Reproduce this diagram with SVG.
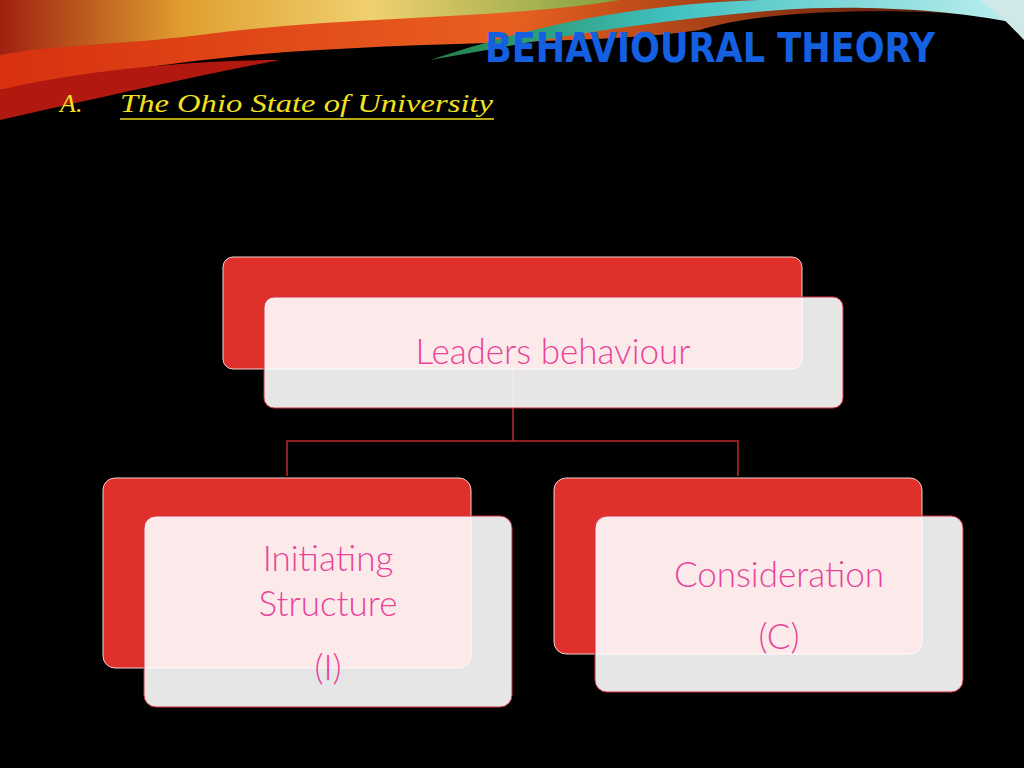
<svg xmlns="http://www.w3.org/2000/svg" width="1024" height="768" viewBox="0 0 1024 768">
<defs>
<linearGradient id="g1" x1="0" y1="0" x2="1" y2="0"><stop offset="0" stop-color="#a02010"/><stop offset="0.3" stop-color="#e0a030"/><stop offset="0.6" stop-color="#f0d070"/><stop offset="1" stop-color="#80a040"/></linearGradient>
<linearGradient id="g2" x1="0" y1="0" x2="1" y2="0"><stop offset="0" stop-color="#d83010"/><stop offset="0.5" stop-color="#e86020"/><stop offset="1" stop-color="#401008"/></linearGradient>
<linearGradient id="g3" x1="0" y1="0" x2="1" y2="0"><stop offset="0" stop-color="#208040"/><stop offset="0.4" stop-color="#40c0c0"/><stop offset="1" stop-color="#c0f0f0"/></linearGradient>
<style>
.back{fill:#e0302c;stroke:#f0d0d0;stroke-width:1}
.front{fill:#ffffff;fill-opacity:0.9;stroke:#d03040;stroke-width:1}
.lbl{font-family:Lato,"Liberation Sans",sans-serif;font-weight:300;font-size:35px;fill:#e8449a;text-anchor:middle}
.conn{fill:none;stroke:#c02828;stroke-width:1.5}
.sub{font-family:"Liberation Serif",serif;font-style:italic;font-size:26px;fill:#f0e020}
</style>
</defs>
<rect width="1024" height="768" fill="#000"/>
<g id="banner">
<path d="M0 0 H1024 V20 C900 5 760 10 700 30 C600 45 420 40 250 55 C150 65 60 80 0 90 Z" fill="url(#g2)"/>
<path d="M0 0 H620 C500 20 350 15 200 35 C120 45 50 45 0 55 Z" fill="url(#g1)"/>
<path d="M0 90 C80 70 200 60 280 60 C200 75 90 100 0 120 Z" fill="#b01810"/>
<path d="M430 60 C520 30 620 5 760 0 H1024 V25 C950 8 850 5 780 10 C650 20 540 40 430 60 Z" fill="url(#g3)"/>
<path d="M980 0 H1024 V40 C1010 25 995 10 980 0 Z" fill="#d0e8e8"/>
</g>
<text x="710" y="62" font-family="'Liberation Sans Narrow','DejaVu Sans Condensed',sans-serif" font-weight="bold" font-size="40" fill="#1560e0" text-anchor="middle" textLength="450" lengthAdjust="spacingAndGlyphs">BEHAVIOURAL THEORY</text>
<text class="sub" x="60" y="112">A.</text>
<text class="sub" x="120" y="112" textLength="373" lengthAdjust="spacingAndGlyphs">The Ohio State of University</text>
<line x1="120" y1="119" x2="494" y2="119" stroke="#f0e020" stroke-width="1.5"/>
<g id="connectors">
<path class="conn" d="M513 370 V441 M287 476 V441 H738 V476"/>
</g>
<g id="n1">
<rect class="back" x="223" y="257" width="579" height="112" rx="10"/>
<rect class="front" x="264" y="297" width="579" height="111" rx="10"/>
<text class="lbl" x="553" y="364">Leaders behaviour</text>
</g>
<g id="n2">
<rect class="back" x="103" y="478" width="368" height="190" rx="12"/>
<rect class="front" x="144" y="516" width="368" height="191" rx="12"/>
<text class="lbl" x="328" y="571">Initiating</text>
<text class="lbl" x="328" y="616">Structure</text>
<text class="lbl" x="328" y="680">(I)</text>
</g>
<g id="n3">
<rect class="back" x="554" y="478" width="368" height="176" rx="12"/>
<rect class="front" x="595" y="516" width="368" height="176" rx="12"/>
<text class="lbl" x="779" y="587">Consideration</text>
<text class="lbl" x="779" y="649">(C)</text>
</g>
</svg>
